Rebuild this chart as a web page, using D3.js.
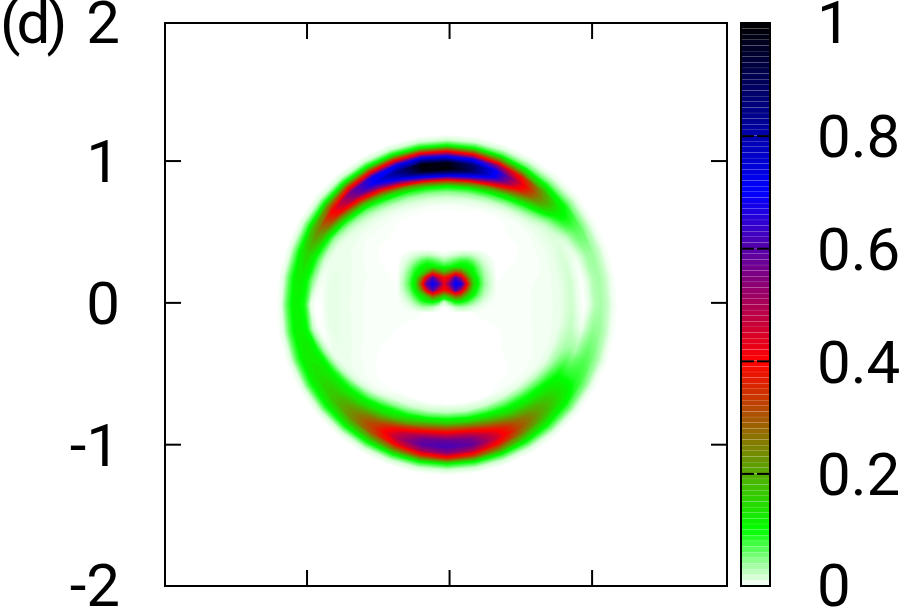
<!DOCTYPE html>
<html>
<head>
<meta charset="utf-8">
<script src="https://cdn.jsdelivr.net/npm/d3@7"></script>
<style>
  html, body { margin: 0; padding: 0; background: #fff; }
  svg { display: block; }
  text { font-family: Roboto, "Liberation Sans", Arial, sans-serif; fill: #000; }
</style>
</head>
<body>
<div id="chart"></div>
<script>
// Ticks
var yTicks = [-2, -1, 0, 1, 2];
var xTicks = [-1, 0, 1];
var barTicks = [0, 0.2, 0.4, 0.6, 0.8, 1];
var panelLabel = "(d)";

// Palette stops of the colour bar
var paletteStops = [0, 0.1, 0.4, 0.7, 1];
var paletteColors = ["#ffffff", "#00ff00", "#ff0000", "#0000ff", "#000000"];

// Ring on a polar grid (values in thousandths)
var ringAngles = d3.range(0, 370, 10);
var ringRadii = [0, 0.4, 0.6, 0.7, 0.76, 0.8, 0.84, 0.88, 0.92, 0.96, 1.0, 1.04, 1.08, 1.12, 1.16, 1.2, 1.26];
var ringRows = [
  [2, 3, 5, 6, 8, 10, 16, 20, 8, 1, 12, 30, 35, 25, 8, 1, 0],
  [2, 3, 5, 6, 8, 10, 15, 20, 9, 2, 13, 32, 36, 25, 8, 1, 0],
  [2, 3, 4, 5, 7, 9, 14, 18, 10, 6, 20, 38, 40, 26, 8, 1, 0],
  [2, 2, 3, 4, 6, 8, 11, 14, 13, 24, 50, 65, 62, 32, 8, 1, 0],
  [2, 2, 2, 3, 5, 8, 12, 20, 45, 85, 115, 115, 95, 45, 12, 1, 0],
  [2, 2, 2, 3, 5, 11, 30, 70, 140, 230, 260, 220, 120, 50, 12, 1, 0],
  [1, 1, 1, 2, 7, 20, 60, 130, 280, 430, 470, 380, 170, 60, 14, 1, 0],
  [1, 1, 1, 2, 12, 35, 90, 220, 490, 700, 710, 540, 260, 80, 16, 2, 0],
  [1, 1, 1, 3, 15, 45, 105, 320, 680, 900, 880, 680, 350, 100, 18, 2, 0],
  [1, 1, 1, 3, 18, 48, 110, 360, 770, 1000, 980, 720, 400, 105, 20, 2, 0],
  [1, 1, 1, 3, 17, 45, 105, 330, 720, 980, 1000, 780, 420, 110, 20, 2, 0],
  [1, 1, 1, 3, 14, 35, 85, 220, 520, 780, 850, 720, 400, 110, 20, 2, 0],
  [1, 1, 1, 3, 9, 22, 60, 130, 310, 560, 720, 690, 380, 110, 20, 2, 0],
  [1, 1, 2, 4, 7, 13, 30, 70, 170, 370, 550, 580, 350, 110, 20, 2, 0],
  [2, 2, 2, 4, 6, 9, 15, 35, 90, 220, 390, 420, 270, 95, 18, 2, 0],
  [2, 2, 3, 5, 7, 8, 9, 15, 40, 110, 210, 250, 190, 80, 16, 2, 0],
  [2, 3, 5, 7, 9, 10, 9, 8, 20, 70, 125, 155, 130, 70, 14, 1, 0],
  [2, 3, 5, 8, 10, 11, 10, 5, 10, 45, 100, 120, 115, 70, 12, 1, 0],
  [2, 3, 5, 8, 10, 11, 10, 2, 1, 10, 90, 110, 110, 70, 10, 1, 0],
  [2, 3, 5, 8, 10, 11, 10, 3, 2, 25, 100, 115, 112, 70, 12, 1, 0],
  [2, 3, 4, 7, 9, 10, 9, 6, 30, 95, 120, 125, 115, 72, 14, 1, 0],
  [2, 2, 3, 5, 7, 8, 10, 25, 85, 125, 140, 140, 120, 75, 14, 1, 0],
  [1, 1, 2, 3, 5, 7, 18, 70, 115, 150, 175, 175, 135, 80, 16, 2, 0],
  [1, 1, 1, 2, 4, 13, 50, 105, 150, 215, 250, 240, 165, 85, 16, 2, 0],
  [1, 1, 1, 2, 11, 40, 95, 135, 220, 310, 350, 320, 200, 90, 18, 2, 0],
  [1, 1, 1, 2, 18, 60, 120, 200, 350, 460, 500, 430, 260, 95, 18, 2, 0],
  [0, 1, 1, 2, 22, 75, 160, 300, 450, 570, 600, 510, 320, 100, 20, 2, 0],
  [0, 1, 1, 2, 25, 85, 170, 330, 470, 585, 620, 550, 360, 100, 20, 2, 0],
  [0, 1, 1, 2, 22, 80, 160, 310, 460, 560, 590, 500, 320, 100, 20, 2, 0],
  [1, 1, 1, 2, 20, 70, 130, 230, 350, 440, 470, 390, 240, 90, 18, 2, 0],
  [1, 1, 1, 3, 16, 55, 100, 150, 230, 300, 320, 270, 170, 80, 16, 2, 0],
  [1, 1, 2, 3, 11, 40, 85, 115, 170, 210, 220, 190, 130, 70, 14, 1, 0],
  [1, 2, 3, 4, 8, 25, 60, 100, 125, 145, 150, 135, 105, 60, 12, 1, 0],
  [2, 2, 4, 5, 7, 13, 35, 65, 90, 85, 85, 85, 75, 45, 10, 1, 0],
  [2, 3, 4, 6, 7, 11, 25, 35, 40, 35, 55, 65, 55, 35, 10, 1, 0],
  [2, 3, 5, 6, 8, 10, 18, 25, 15, 8, 30, 45, 42, 28, 8, 1, 0]
];
var ringCenterX = -0.014;
var ringCenterY = -0.018;

// The two spots near the middle, on a regular grid (thousandths again)
var spotX = d3.range(-0.355, 0.33, 0.04);
var spotY = d3.range(0.37, -0.08, -0.04);
var spotRows = [
  [2, 3, 4, 4, 4, 4, 4, 3, 2, 3, 4, 4, 4, 4, 4, 3, 3, 2],
  [3, 6, 10, 16, 22, 26, 22, 14, 9, 13, 20, 26, 27, 22, 15, 9, 5, 3],
  [4, 10, 22, 42, 68, 82, 75, 58, 40, 52, 68, 82, 82, 62, 34, 15, 8, 4],
  [4, 15, 38, 75, 100, 115, 110, 100, 90, 95, 110, 115, 108, 95, 55, 24, 11, 4],
  [5, 22, 55, 95, 130, 200, 320, 260, 190, 250, 320, 290, 175, 110, 70, 32, 15, 5],
  [6, 28, 65, 120, 250, 450, 620, 480, 400, 450, 630, 500, 300, 145, 88, 38, 18, 6],
  [6, 32, 72, 130, 320, 600, 700, 620, 430, 560, 710, 670, 400, 165, 95, 42, 20, 6],
  [6, 27, 60, 115, 240, 450, 620, 480, 390, 450, 630, 500, 300, 140, 80, 35, 17, 6],
  [5, 18, 40, 85, 125, 200, 310, 250, 170, 230, 310, 280, 170, 105, 60, 26, 12, 5],
  [4, 10, 22, 50, 85, 105, 115, 90, 25, 70, 115, 108, 85, 55, 30, 14, 7, 4],
  [3, 6, 10, 20, 32, 36, 28, 11, 3, 9, 25, 32, 26, 17, 10, 6, 4, 3],
  [2, 3, 4, 4, 4, 4, 4, 4, 2, 3, 4, 4, 4, 4, 4, 3, 3, 2]
];

var svg = d3.select("#chart").append("svg")
  .attr("width", 900)
  .attr("height", 607);

// Escalas
var x = d3.scaleLinear().domain([-2, 1.95]).range([164, 727]);
var y = d3.scaleLinear().domain([-2, 1.97]).range([586, 23]).clamp(true);
var barY = d3.scaleLinear().domain([0, 1]).range([586, 23]);
var color = d3.scaleLinear().domain(paletteStops).range(paletteColors);

var levels = d3.range(0.0025, 0.12, 0.0025).concat(d3.range(0.12, 1.005, 0.01));
var heat = svg.append("g").attr("class", "heat");

function drawLayer(rows, levelsUsed, project) {
  var n = rows[0].length, m = rows.length;
  var contours = d3.contours().size([n, m]).thresholds(levelsUsed);
  var path = d3.geoPath(d3.geoTransform({
    point: function(gx, gy) {
      var p = project(gx - 0.5, gy - 0.5);
      this.stream.point(p[0], p[1]);
    }
  }));
  heat.append("g").selectAll("path")
    .data(contours(rows.flat().map(function(v) { return v / 1000; })))
    .enter().append("path")
    .attr("d", path)
    .attr("fill", function(d) { return color(d.value); })
    .attr("stroke", function(d) { return color(d.value); })
    .attr("stroke-width", 0.5)
    .attr("fill-rule", "evenodd");
}

// Ring: rows are angles, so close the circle by repeating the first one
var ringRadius = d3.scaleLinear().domain(d3.range(ringRadii.length)).range(ringRadii).clamp(true);
var ringAngle = d3.scaleLinear().domain(d3.range(ringAngles.length)).range(ringAngles).clamp(true);
drawLayer(ringRows.concat([ringRows[0]]), levels, function(gr, ga) {
  var t = ringAngle(ga) * Math.PI / 180, r = ringRadius(gr);
  return [x(ringCenterX + r * Math.cos(t)), y(ringCenterY + r * Math.sin(t))];
});

// Spots
var spotCol = d3.scaleLinear().domain(d3.range(spotX.length)).range(spotX).clamp(true);
var spotRow = d3.scaleLinear().domain(d3.range(spotY.length)).range(spotY).clamp(true);
drawLayer(spotRows, levels.filter(function(t) { return t >= 0.005; }), function(gc, gr) {
  return [x(spotCol(gc)), y(spotRow(gr))];
});

// Marco y ejes
svg.append("rect")
  .attr("x", 165).attr("y", 23)
  .attr("width", 562).attr("height", 563)
  .attr("fill", "none").attr("stroke", "#000").attr("stroke-width", 2);

// Tick marks only, no labels
function styleTicks(g) {
  g.select(".domain").remove();
  g.selectAll("text").remove();
  g.selectAll("line").attr("stroke", "#000").attr("stroke-width", 2);
}

// Labels only; the two end labels sit a little inside the picture
function styleLabels(g, ends) {
  g.select(".domain").remove();
  g.selectAll("text")
    .style("font-size", "60px")
    .attr("dy", "0.355em")
    .attr("y", function(d) { return ends.indexOf(d) >= 0 ? -2 : 0; });
}

var inner = [-1, 0, 1];
svg.append("g").attr("transform", "translate(165,0)")
  .call(d3.axisLeft(y).tickValues(yTicks).tickSize(0).tickPadding(45).tickFormat(String))
  .call(styleLabels, [-2, 2]);
svg.append("g").attr("transform", "translate(165,0)")
  .call(d3.axisLeft(y).tickValues(inner).tickSize(-16))
  .call(styleTicks);
svg.append("g").attr("transform", "translate(727,0)")
  .call(d3.axisRight(y).tickValues(inner).tickSize(-16))
  .call(styleTicks);
svg.append("g").attr("transform", "translate(0,586)")
  .call(d3.axisBottom(x).tickValues(xTicks).tickSize(-16))
  .call(styleTicks);
svg.append("g").attr("transform", "translate(0,23)")
  .call(d3.axisTop(x).tickValues(xTicks).tickSize(-16))
  .call(styleTicks);

svg.append("text")
  .attr("x", 0).attr("y", 43)
  .style("font-size", "60px")
  .style("letter-spacing", "-4px")
  .text(panelLabel);

// Barra de color
var bands = d3.range(100).map(function(i) { return i / 100; });
svg.append("g").selectAll("rect")
  .data(bands)
  .enter().append("rect")
  .attr("x", 741).attr("width", 29)
  .attr("y", function(d) { return barY(d + 0.01); })
  .attr("height", barY(0) - barY(0.01) - 0.15)
  .attr("fill", function(d) { return color(d + 0.005); });

svg.append("rect")
  .attr("x", 741).attr("y", 23)
  .attr("width", 29).attr("height", 563)
  .attr("fill", "none").attr("stroke", "#000").attr("stroke-width", 2);

var barInner = barTicks.slice(1, -1);
svg.append("g").attr("transform", "translate(741,0)")
  .call(d3.axisLeft(barY).tickValues(barInner).tickSize(-13))
  .call(styleTicks);
svg.append("g").attr("transform", "translate(770,0)")
  .call(d3.axisRight(barY).tickValues(barInner).tickSize(-13))
  .call(styleTicks);
svg.append("g").attr("transform", "translate(770,0)")
  .call(d3.axisRight(barY).tickValues(barTicks).tickSize(0).tickPadding(47).tickFormat(String))
  .call(styleLabels, [0, 1]);
</script>
</body>
</html>
